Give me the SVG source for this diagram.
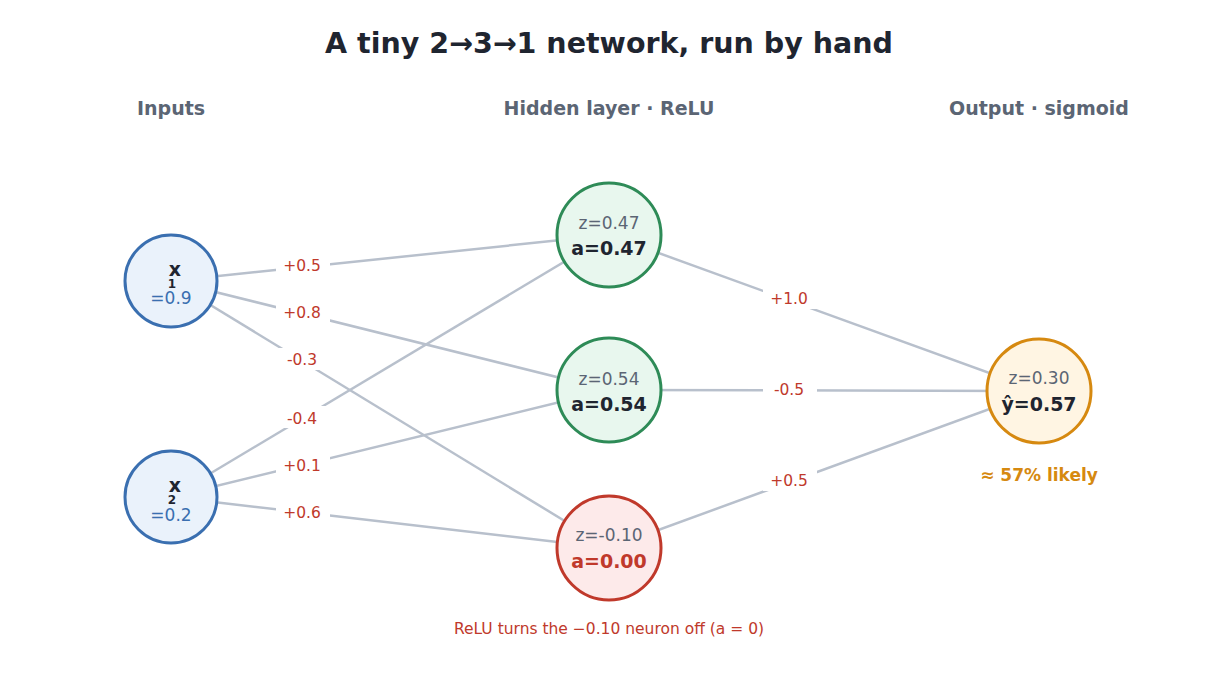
<svg xmlns="http://www.w3.org/2000/svg" width="1218" height="687" viewBox="0 0 1218 687">
<style>
text{font-family:"DejaVu Sans","Liberation Sans",sans-serif;text-anchor:middle}
.e{stroke:#b8c0cc;stroke-width:2.5;fill:none}
.w{font-size:15.5px;fill:#c0392b}
.lb{fill:#fff}
.hd{font-size:19px;font-weight:bold;fill:#5b6574}
.z{font-size:17px;fill:#5b6574}
.a{font-size:19px;font-weight:bold;fill:#1f2530}
</style>
<rect width="1218" height="687" fill="#fff"/>
<text x="609" y="53" font-size="28.5" font-weight="bold" fill="#1f2530">A tiny 2→3→1 network, run by hand</text>
<text class="hd" x="171" y="115">Inputs</text>
<text class="hd" x="609" y="115">Hidden layer · ReLU</text>
<text class="hd" x="1039" y="115">Output · sigmoid</text>
<g id="connectors">
<line class="e" x1="171" y1="281" x2="609" y2="235"/>
<line class="e" x1="171" y1="281" x2="609" y2="390"/>
<line class="e" x1="171" y1="281" x2="609" y2="548"/>
<line class="e" x1="171" y1="497" x2="609" y2="235"/>
<line class="e" x1="171" y1="497" x2="609" y2="390"/>
<line class="e" x1="171" y1="497" x2="609" y2="548"/>
<line class="e" x1="609" y1="235" x2="1039" y2="391"/>
<line class="e" x1="609" y1="390" x2="1039" y2="391"/>
<line class="e" x1="609" y1="548" x2="1039" y2="391"/>
<rect class="lb" x="276" y="254" width="54" height="22"/><text class="w" x="302" y="271">+0.5</text>
<rect class="lb" x="276" y="301" width="54" height="22"/><text class="w" x="302" y="318">+0.8</text>
<rect class="lb" x="276" y="348" width="54" height="22"/><text class="w" x="302" y="365">-0.3</text>
<rect class="lb" x="276" y="406" width="54" height="22"/><text class="w" x="302" y="424">-0.4</text>
<rect class="lb" x="276" y="454" width="54" height="22"/><text class="w" x="302" y="471">+0.1</text>
<rect class="lb" x="276" y="501" width="54" height="22"/><text class="w" x="302" y="518">+0.6</text>
<rect class="lb" x="763" y="287" width="54" height="22"/><text class="w" x="789" y="304">+1.0</text>
<rect class="lb" x="763" y="378" width="54" height="22"/><text class="w" x="789" y="395">-0.5</text>
<rect class="lb" x="763" y="469" width="54" height="22"/><text class="w" x="789" y="486">+0.5</text>
</g>
<g id="x1">
<circle cx="171" cy="281" r="46" fill="#eaf2fb" stroke="#3a6fb0" stroke-width="3"/>
<text x="175" y="276" font-size="19" font-weight="bold" fill="#1f2530">x</text>
<text x="172" y="288" font-size="12" font-weight="bold" fill="#1f2530">1</text>
<text x="171" y="304" font-size="17" fill="#3a6fb0">=0.9</text>
</g>
<g id="x2">
<circle cx="171" cy="497" r="46" fill="#eaf2fb" stroke="#3a6fb0" stroke-width="3"/>
<text x="175" y="492" font-size="19" font-weight="bold" fill="#1f2530">x</text>
<text x="172" y="504" font-size="12" font-weight="bold" fill="#1f2530">2</text>
<text x="171" y="521" font-size="17" fill="#3a6fb0">=0.2</text>
</g>
<g id="h1">
<circle cx="609" cy="235" r="52" fill="#e8f7ee" stroke="#2e8b57" stroke-width="3"/>
<text class="z" x="609" y="229">z=0.47</text>
<text class="a" x="609" y="255">a=0.47</text>
</g>
<g id="h2">
<circle cx="609" cy="390" r="52" fill="#e8f7ee" stroke="#2e8b57" stroke-width="3"/>
<text class="z" x="609" y="385">z=0.54</text>
<text class="a" x="609" y="411">a=0.54</text>
</g>
<g id="h3">
<circle cx="609" cy="548" r="52" fill="#fdeaea" stroke="#c0392b" stroke-width="3"/>
<text class="z" x="609" y="541">z=-0.10</text>
<text class="a" x="609" y="568" style="fill:#c0392b">a=0.00</text>
</g>
<g id="out">
<circle cx="1039" cy="391" r="52" fill="#fff5e3" stroke="#d68910" stroke-width="3"/>
<text class="z" x="1039" y="384">z=0.30</text>
<text class="a" x="1039" y="411">ŷ=0.57</text>
<text x="1039" y="481" font-size="17" font-weight="bold" fill="#d68910">≈ 57% likely</text>
</g>
<text x="609" y="634" font-size="15.5" fill="#c0392b">ReLU turns the −0.10 neuron off (a = 0)</text>
</svg>
